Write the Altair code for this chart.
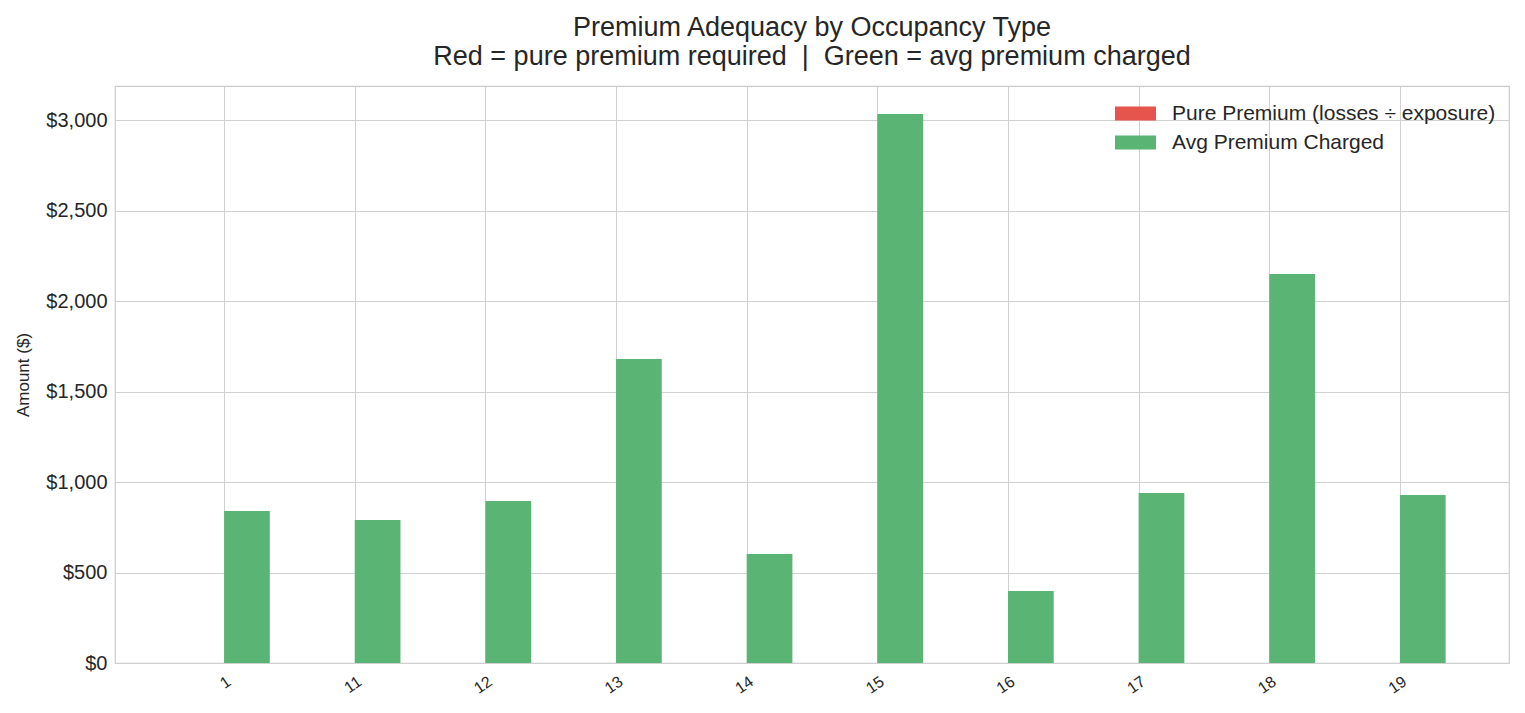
import altair as alt
import pandas as pd

categories = ["1", "11", "12", "13", "14", "15", "16", "17", "18", "19"]
pure_premium = [0, 0, 0, 0, 0, 0, 0, 0, 0, 0]
avg_premium = [840, 790, 895, 1680, 602, 3033, 398, 939, 2149, 928]

series_names = ["Pure Premium (losses \u00f7 exposure)", "Avg Premium Charged"]
series_colors = ["#e5554d", "#5ab474"]
bar_w = 0.35

rows = []
for i, c in enumerate(categories):
    rows.append({"cat": c, "idx": i, "series": series_names[0], "value": pure_premium[i], "off": -bar_w})
    rows.append({"cat": c, "idx": i, "series": series_names[1], "value": avg_premium[i], "off": 0.0})
df = pd.DataFrame(rows)

label_expr = "[" + ",".join("'" + c + "'" for c in categories) + "][datum.value]"

font = "Liberation Sans"
text_color = "#262626"
nb = "\u00a0"

chart = (
    alt.Chart(df)
    .transform_calculate(xs="datum.idx + datum.off", xe="datum.idx + datum.off + %f" % bar_w)
    .mark_rect()
    .encode(
        x=alt.X(
            "xs:Q",
            scale=alt.Scale(domain=[-0.835, 9.835], nice=False, zero=False),
            axis=alt.Axis(
                values=list(range(len(categories))),
                labelExpr=label_expr,
                labelAngle=325,
                labelAlign="right",
                labelBaseline="top",
                labelFontSize=16,
                labelColor=text_color,
                labelPadding=10,
                ticks=False,
                domain=False,
                title=None,
                gridColor="#d0d0d0",
            ),
        ),
        x2="xe:Q",
        y=alt.Y(
            "value:Q",
            scale=alt.Scale(domain=[0, 3188], nice=False),
            axis=alt.Axis(
                values=[0, 500, 1000, 1500, 2000, 2500, 3000],
                format="$,.0f",
                title="Amount ($)",
                titleFontSize=17,
                titleFontWeight="normal",
                titleColor=text_color,
                titlePadding=13,
                labelFontSize=20,
                labelColor=text_color,
                labelPadding=8,
                ticks=False,
                domain=False,
                gridColor="#d0d0d0",
            ),
        ),
        y2=alt.datum(0),
        color=alt.Color(
            "series:N",
            scale=alt.Scale(domain=series_names, range=series_colors),
            legend=alt.Legend(
                title=None,
                orient="none",
                legendX=1010,
                legendY=17,
                symbolType="M-2.93,-1L2.93,-1L2.93,1L-2.93,1Z",
                symbolSize=196,
                symbolStrokeWidth=0,
                symbolOpacity=1,
                labelFontSize=21,
                labelColor=text_color,
                labelLimit=500,
                rowPadding=7,
                labelOffset=26,
            ),
        ),
    )
    .properties(
        width=1394,
        height=577,
        title=alt.TitleParams(
            text=[
                "Premium Adequacy by Occupancy Type",
                "Red = pure premium required" + nb + nb + "|" + nb + nb + "Green = avg premium charged",
            ],
            fontSize=27,
            fontWeight="normal",
            color=text_color,
            lineHeight=29,
            anchor="middle",
            offset=15,
            font=font,
        ),
    )
    .configure(font=font, padding={"left": 14, "right": 15, "top": 14, "bottom": 5})
    .configure_view(stroke="#cccccc", strokeWidth=1.2)
    .configure_axis(labelFont=font, titleFont=font)
    .configure_legend(labelFont=font)
)

chart.save("out.html", embed_options={"renderer": "svg", "actions": False})
